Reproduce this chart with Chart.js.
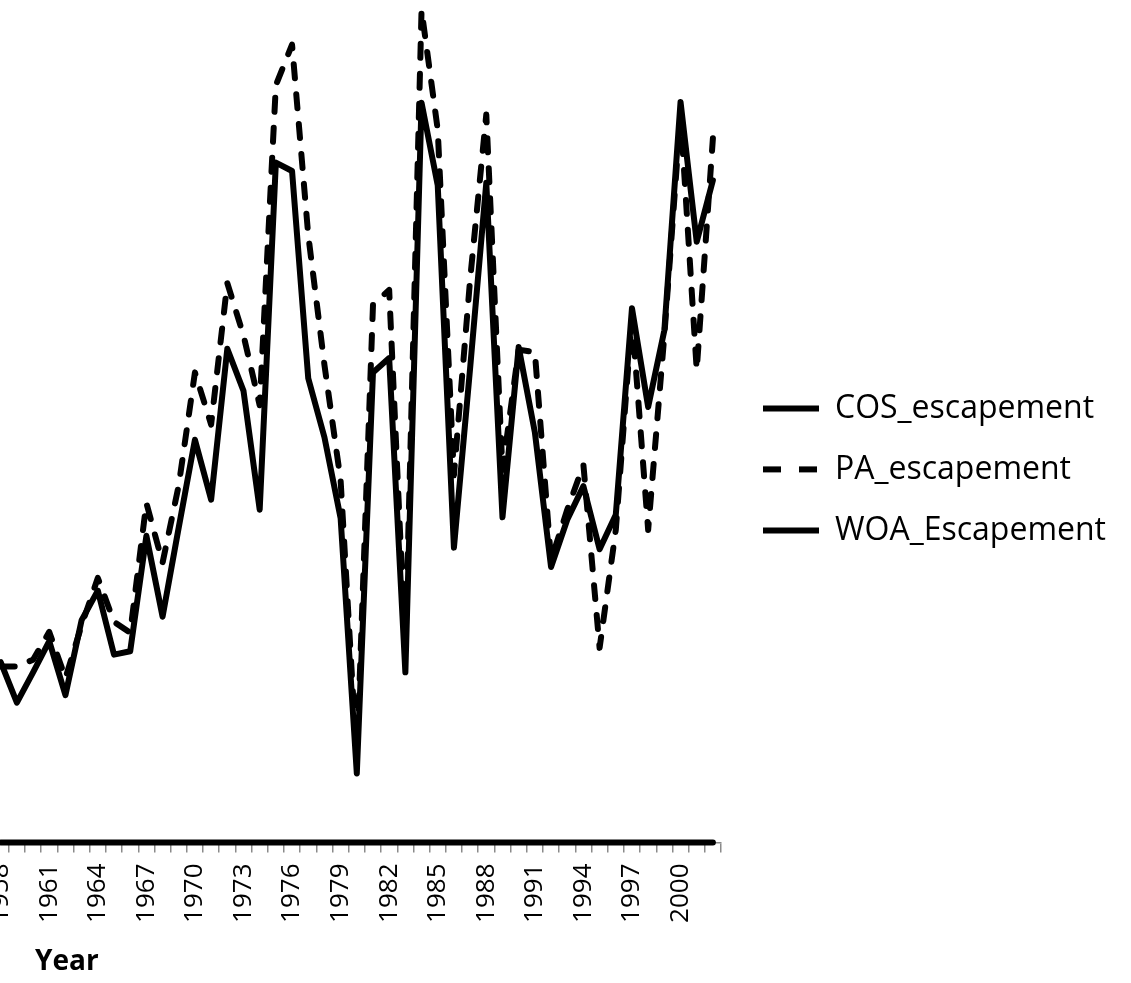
<!DOCTYPE html>
<html>
<head>
<meta charset="utf-8">
<script src="https://cdn.jsdelivr.net/npm/chart.js@4.4.1/dist/chart.umd.min.js"></script>
<style>
  html, body { margin: 0; padding: 0; width: 1131px; height: 983px; overflow: hidden; background: #fff; }
  #wrap { position: absolute; left: -40px; top: 0; width: 1171px; height: 983px; }
  #xtitle { position: absolute; left: 35px; top: 945px; font: bold 28px "Open Sans", sans-serif; line-height: 28px; color: #000; }
</style>
</head>
<body>
<div id="wrap"><canvas id="c"></canvas></div>
<div id="xtitle">Year</div>
<script>
const years = [1958,1959,1960,1961,1962,1963,1964,1965,1966,1967,1968,1969,1970,1971,1972,1973,1974,1975,1976,1977,1978,1979,1980,1981,1982,1983,1984,1985,1986,1987,1988,1989,1990,1991,1992,1993,1994,1995,1996,1997,1998,1999,2000,2001,2002];
const cosEscapement = [21.4,16.6,20.2,23.9,17.5,26.4,29.9,22.3,22.7,36.4,26.8,37.4,47.8,40.7,58.6,53.6,39.5,80.7,79.7,55.1,48.1,38.5,8.2,55.8,57.5,20.2,87.8,78.0,35.0,56.3,78.3,38.6,58.8,48.7,32.7,38.3,42.3,34.8,38.9,63.4,51.7,60.8,87.9,71.3,78.6];
const paEscapement = [20.9,20.9,21.7,25.0,19.5,25.8,31.4,26.2,24.9,40.3,33.2,42.4,55.8,49.6,66.4,60.2,51.9,89.9,94.7,72.1,56.7,43.0,9.8,63.8,65.6,22.8,98.8,84.6,43.6,66.8,86.4,44.2,58.5,58.2,33.5,39.5,44.8,23.1,37.1,62.3,37.1,60.2,86.4,56.1,83.6];
const woaEscapement = [0,0,0,0,0,0,0,0,0,0,0,0,0,0,0,0,0,0,0,0,0,0,0,0,0,0,0,0,0,0,0,0,0,0,0,0,0,0,0,0,0,0,0,0,0];
const seriesNames = ['COS_escapement', 'PA_escapement', 'WOA_Escapement'];
const labelStep = 3;

const FONT = '"Open Sans", sans-serif';
const LEG_SIZE = 32, LEG_PAD = 29, LEG_BOX = 56;
const CANVAS_W = 1171;
const PLOT_RIGHT = 761;
const LEGEND_ITEM_X = 803;

function build() {
  const mctx = document.createElement('canvas').getContext('2d');
  mctx.font = LEG_SIZE + 'px ' + FONT;
  const tw = Math.max(...seriesNames.map(t => mctx.measureText(t).width));
  const legendW = LEG_PAD + LEG_BOX + LEG_SIZE / 2 + tw + 10;
  const padRight = Math.max(0, CANVAS_W - PLOT_RIGHT - legendW);

  const legendShift = {
    id: 'legendShift',
    afterLayout(chart) {
      const lg = chart.legend;
      if (!lg) return;
      const dx = (LEGEND_ITEM_X - LEG_PAD) - lg.left;
      lg.left += dx;
      lg.right += dx;
    }
  };

  const dsBase = { borderColor: '#000', backgroundColor: '#000', borderWidth: 6, pointRadius: 0, pointHoverRadius: 0, tension: 0, fill: false, clip: false, borderCapStyle: 'round', borderJoinStyle: 'round' };

  new Chart(document.getElementById('c'), {
    type: 'line',
    data: {
      labels: years.map(String),
      datasets: [
        Object.assign({}, dsBase, { label: seriesNames[0], data: cosEscapement }),
        Object.assign({}, dsBase, { label: seriesNames[1], data: paEscapement, borderDash: [14, 16], legendDash: [18, 18] }),
        Object.assign({}, dsBase, { label: seriesNames[2], data: woaEscapement })
      ]
    },
    plugins: [legendShift],
    options: {
      responsive: true,
      maintainAspectRatio: false,
      animation: false,
      events: [],
      layout: { padding: { left: 32.6, right: padRight, top: 0, bottom: 44.2 } },
      plugins: {
        tooltip: { enabled: false },
        legend: {
          position: 'right',
          labels: {
            usePointStyle: true,
            pointStyleWidth: LEG_BOX,
            boxWidth: LEG_BOX,
            boxHeight: 6,
            padding: LEG_PAD,
            color: '#000',
            font: { family: FONT, size: LEG_SIZE },
            generateLabels: (chart) => chart.data.datasets.map((ds, i) => ({
              text: ds.label, fillStyle: '#000', strokeStyle: '#000', lineWidth: 6,
              lineDash: ds.legendDash || [], lineCap: 'butt', pointStyle: 'line',
              fontColor: '#000', hidden: false, datasetIndex: i
            }))
          }
        }
      },
      scales: {
        x: {
          type: 'category',
          offset: true,
          afterFit: (s) => { s.height = 96.3; },
          grid: { display: true, offset: true, drawOnChartArea: false, drawTicks: true, tickLength: 10, color: '#8a8a8a', lineWidth: 1.5 },
          border: { display: true, color: '#8a8a8a', width: 1.5 },
          ticks: {
            autoSkip: false, minRotation: 90, maxRotation: 90, padding: 11, color: '#000',
            font: { family: FONT, size: 26 },
            callback: function (v, i) { return ((years[i] - years[0]) % labelStep === 0) ? String(years[i]) : ''; }
          }
        },
        y: { display: false, min: 0, max: 100 }
      }
    }
  });
}

Promise.all([
  document.fonts.load('26px "Open Sans"'),
  document.fonts.load('32px "Open Sans"'),
  document.fonts.load('bold 28px "Open Sans"')
]).then(build, build);
</script>
</body>
</html>
